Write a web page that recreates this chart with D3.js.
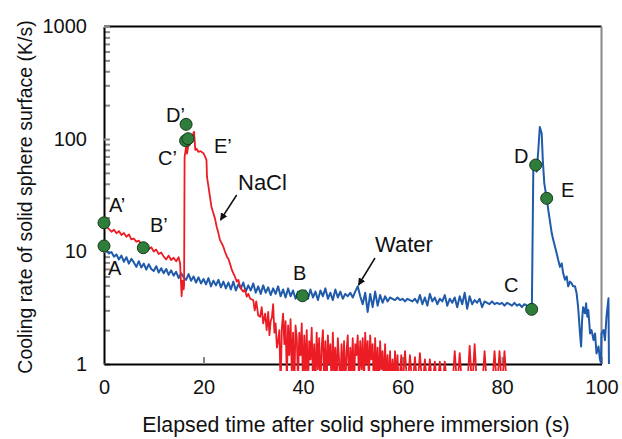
<!DOCTYPE html>
<html><head><meta charset="utf-8">
<script src="https://cdn.jsdelivr.net/npm/d3@7"></script>
<style>body{margin:0;background:#fff}svg{display:block}text{font-family:Arial,"Liberation Sans",sans-serif;fill:#111}</style>
</head><body>
<svg id="c" width="622" height="439"></svg>
<script>
// ---------- DATA ----------
const xTicks = [0, 20, 40, 60, 80, 100];
const yMajor = [1, 10, 100, 1000];
const yMinor = [2,3,4,5,6,7,8,9,20,30,40,50,60,70,80,90,200,300,400,500,600,700,800,900];

// Water: [time (s), cooling rate (K/s)]
const waterBase = [[0,11.0],[0.5,10.2],[1,9.6],[1.5,9.9],[2,9.0],[2.5,9.4],[3,8.5],[3.5,9.2],[4,8.1],[4.5,8.9],[5,7.8],[5.5,8.6],[6,8.0],[6.5,7.3],[7,8.2],[7.5,7.2],[8,7.8],[8.5,6.9],[9,7.7],[9.5,7.0],[10,6.7],[10.5,7.4],[11,6.5],[11.5,7.1],[12,6.4],[12.5,7.0],[13,6.2],[13.5,6.8],[14,6.1],[14.5,6.6],[15,5.8],[15.5,6.4],[16,5.9],[16.5,5.6],[17,6.3],[17.5,5.5],[18,6.0],[18.5,5.3],[19,5.9],[19.5,5.2],[20,5.7],[20.5,5.1],[21,5.8],[21.5,4.9],[22,5.5],[22.5,5.0],[23,5.6],[23.5,4.8],[24,5.4],[24.5,4.7],[25,5.3],[25.5,4.6],[26,5.4],[26.5,4.5],[27,5.1],[27.5,4.7],[28,5.3],[28.5,4.4],[29,5.0],[29.5,4.5],[30,5.2],[30.5,4.3],[31,4.9],[31.5,4.2],[32,5.0],[32.5,4.3],[33,4.8],[33.5,4.1],[34,4.7],[34.5,4.2],[35,4.9],[35.5,4.0],[36,4.6],[36.5,3.9],[37,4.7],[37.5,4.0],[38,4.5],[38.5,3.8],[39,4.4],[39.5,3.9],[40,4.1],[40.5,4.5],[41,3.8],[41.5,4.6],[42,3.9],[42.5,4.4],[43,3.7],[43.5,4.5],[44,4.0],[44.5,4.7],[45,3.8],[45.5,4.3],[46,3.7],[46.5,4.6],[47,3.9],[47.5,4.4],[48,3.8],[48.5,4.2],[49,4.0],[49.5,4.3],[50,3.9],[50.5,4.4],[51,4.9],[51.5,4.0],[52,3.4],[52.5,4.3],[53,2.9],[53.5,4.2],[54,3.2],[54.5,4.4],[55,3.3],[55.5,4.1],[56,3.5],[56.5,4.0],[57,3.6],[57.5,3.9],[58,3.8],[58.5,3.7],[59,3.9],[59.5,3.7],[60,3.8],[60.5,3.6],[61,3.8],[61.5,3.7],[62,3.6],[62.5,3.8],[63,3.5],[63.5,4.1],[64,3.4],[64.5,3.9],[65,3.3],[65.5,4.2],[66,3.6],[66.5,3.9],[67,3.4],[67.5,3.8],[68,3.6],[68.5,4.1],[69,3.3],[69.5,3.8],[70,3.5],[70.5,3.9],[71,3.2],[71.5,4.0],[72,3.4],[72.5,4.3],[73,3.1],[73.5,4.0],[74,3.4],[74.5,3.7],[75,3.5],[75.5,3.8],[76,3.2],[76.5,3.6],[77,3.5],[77.5,3.4],[78,3.6],[78.5,3.4],[79,3.5],[79.5,3.4],[80,3.5],[80.5,3.3],[81,3.5],[81.5,3.4],[82,3.3],[82.5,3.5],[83,3.3],[83.5,3.4],[84,3.2],[84.5,3.4],[85,3.3],[85.5,3.1],[86,3.05]];
const waterPeak = [[86.3,56.7],[86.6,62.8],[86.97,51.2],[87.3,79.8],[87.6,128],[87.98,112],[88.2,65],[88.5,40.4],[88.98,29.7],[89.3,23.4],[89.6,19.1],[90.0,14.5],[90.3,12.7],[90.65,11.0],[91.0,9.6],[91.3,8.4],[91.66,7.3],[92.0,7.85],[92.3,6.4],[92.66,5.6],[93.0,6.0],[93.3,4.9],[93.67,5.4],[94.0,5.2],[94.3,4.9],[94.67,4.9],[95.0,4.25],[95.3,3.2],[95.68,1.87],[95.9,1.43],[96.1,2.46],[96.3,3.2],[96.7,2.82],[96.9,3.46],[97.15,2.63],[97.35,3.02],[97.7,1.87],[98.0,2.0],[98.4,1.63],[98.7,1.87],[99.0,1.24],[99.4,1.43],[99.7,1.09],[99.9,1.02],[100.0,1.87],[100.4,2.0],[100.7,1.63],[101.0,2.63],[101.4,3.84],[101.5,1.0]];

// NaCl
const naclBase = [[0,18.0],[0.5,16.5],[1,15.8],[1.5,15.0],[2,15.6],[2.5,14.5],[3,15.2],[3.5,14.0],[4,14.6],[4.5,13.5],[5,14.2],[5.5,12.8],[6,13.0],[6.5,12.2],[7,12.5],[7.5,11.5],[8,11.0],[8.5,11.4],[9,10.5],[9.5,10.9],[10,10.0],[10.5,10.4],[11,9.5],[11.5,9.8],[12,9.0],[12.5,8.5],[13,9.2],[13.5,8.4],[14,8.8],[14.5,8.2],[15,8.9],[15.3,7.8],[15.6,4.0],[15.8,5.5],[16.0,4.6],[16.1,5.0]];
const naclPeak = [[16.2,69],[16.5,85],[16.7,74],[17.0,92],[17.2,88],[17.5,98],[17.95,112],[18.1,116],[18.35,80],[18.6,82],[18.96,77],[19.4,78],[20.0,74.6],[20.3,70],[20.6,65],[20.7,46],[21.0,37.7],[21.3,30.6],[21.6,25],[22.0,21.8],[22.3,19.7],[22.65,16.6],[23.0,14.5],[23.3,12.7],[23.6,12.0],[24.0,11.0],[24.3,10.0],[24.7,9.0],[25.0,8.6],[25.3,7.85],[25.7,6.85],[26.0,6.4],[26.3,6.0],[26.7,5.4],[27.0,5.6],[27.3,5.0],[27.7,4.55],[28.0,4.4],[28.3,4.6],[28.7,3.97],[29.0,4.2],[29.4,3.8],[30.0,3.7],[30.3,3.0],[30.6,3.6],[31.0,2.7],[31.4,2.63],[31.7,3.2],[32.0,2.3],[32.4,2.8],[32.7,2.0]];
const naclTail = [[33.0,2.9],[33.25,1.8],[33.5,2.4],[33.75,2.6],[34.0,3.4],[34.25,1.9],[34.5,2.3],[34.75,1.4],[35.0,1.6],[35.25,2.0],[35.5,0.6],[35.75,2.1],[36.0,2.8],[36.25,1.5],[36.5,2.4],[36.75,0.7],[37.0,2.2],[37.25,1.2],[37.5,2.5],[37.75,0.8],[38.0,1.9],[38.25,0.6],[38.5,2.2],[38.75,1.7],[39.0,0.7],[39.25,1.9],[39.5,1.2],[39.75,2.3],[40.0,0.6],[40.25,1.8],[40.5,0.8],[40.75,2.0],[41.0,0.6],[41.25,1.6],[41.5,1.1],[41.75,2.1],[42.0,0.7],[42.25,1.5],[42.5,0.6],[42.75,1.9],[43.0,0.9],[43.25,1.7],[43.5,0.6],[43.75,1.4],[44.0,2.0],[44.25,0.7],[44.5,1.6],[44.75,0.6],[45.0,1.8],[45.25,1.0],[45.5,1.5],[45.75,0.6],[46.0,1.9],[46.25,0.8],[46.5,1.4],[46.75,0.6],[47.0,1.7],[47.25,1.1],[47.5,0.6],[47.75,1.5],[48.0,0.7],[48.25,1.6],[48.5,0.6],[48.75,1.3],[49.0,1.8],[49.25,0.6],[49.5,1.4],[49.75,0.8],[50.0,1.7],[50.25,0.6],[50.5,1.5],[50.75,1.2],[51.0,1.8],[51.25,0.7],[51.5,1.6],[51.75,0.9],[52.0,1.7],[52.25,0.6],[52.5,1.9],[52.75,1.0],[53.0,1.6],[53.25,0.7],[53.5,1.8],[53.75,1.1],[54.0,1.5],[54.25,0.6],[54.5,1.7],[54.75,0.8],[55.0,1.4],[55.25,0.6],[55.5,1.6],[55.75,0.9],[56.0,1.3],[56.25,0.6],[56.5,1.5],[56.75,0.7],[57.0,1.2],[57.25,0.6],[57.5,1.3],[57.75,0.6],[58.0,1.1],[58.25,0.6],[58.5,1.3],[58.75,0.7],[59.0,1.2],[59.25,0.6],[59.5,0.8],[59.75,1.2],[60.0,0.6],[60.5,1.3],[61.0,0.6],[61.5,1.2],[62.0,0.6],[62.5,1.15],[63.0,0.6],[63.5,1.25],[64.0,0.6],[64.5,1.1],[65.0,0.6],[65.5,1.1],[66.0,0.6],[66.5,1.05],[67.0,0.6],[67.5,1.05],[68.0,0.6],[68.5,1.05],[69.0,0.6],[70.0,0.6],[70.5,1.3],[71.0,0.6],[71.5,1.25],[72.0,0.6],[73.0,0.6],[73.5,1.45],[74.0,0.6],[74.5,1.5],[75.0,0.6],[76.0,0.6],[76.5,1.3],[77.0,0.6],[78.0,0.6],[78.5,1.3],[79.0,0.6],[79.5,1.3],[80.0,0.6],[80.5,1.3],[81.0,0.6]];

// Marked points: [label, time, rate]
const markers = [["A",0,11.2],["A’",0,18],["B’",7.9,10.8],["D’",16.5,135],["C’",16.4,96.6],["E’",16.9,100.6],["B",39.9,4.04],["C",85.96,3.06],["D",86.77,58.7],["E",88.98,29.7]];

// ---------- DRAW ----------
const svg = d3.select("#c");
const x = d3.scaleLinear().domain([0,100]).range([104,601.5]);
const y = d3.scaleLog().domain([1,1000]).range([364,26.5]);

svg.append("defs").append("clipPath").attr("id","clip")
  .append("rect").attr("x",100).attr("y",20).attr("width",512).attr("height",351);
const mk = svg.select("defs").append("marker").attr("id","arr")
  .attr("viewBox","0 0 10 10").attr("refX",9).attr("refY",5)
  .attr("markerWidth",5).attr("markerHeight",5).attr("orient","auto");
mk.append("path").attr("d","M0,0 L10,5 L0,10 z").attr("fill","#111");

// frame: top black, right gray
svg.append("line").attr("x1",x(0)).attr("x2",x(100)).attr("y1",y(1000)).attr("y2",y(1000)).attr("stroke","#000").attr("stroke-width",2);
svg.append("line").attr("x1",x(100)).attr("x2",x(100)).attr("y1",y(1000)).attr("y2",y(1)).attr("stroke","#888").attr("stroke-width",2);

// minor y ticks
const yMinorAxis = d3.axisLeft(y).tickValues(yMinor).tickSizeInner(-6).tickSizeOuter(0).tickFormat("");
const gm = svg.append("g").attr("transform",`translate(${x(0)},0)`).call(yMinorAxis);
gm.select(".domain").remove();
gm.selectAll(".tick line").attr("stroke","#888").attr("stroke-width",2);

// major y axis
const yAxis = d3.axisLeft(y).tickValues(yMajor).tickSizeInner(-6).tickSizeOuter(0).tickPadding(17).tickFormat(d3.format("d"));
const gy = svg.append("g").attr("transform",`translate(${x(0)},0)`).call(yAxis);
gy.select(".domain").attr("stroke","#000").attr("stroke-width",2);
gy.selectAll(".tick line").attr("stroke","#888").attr("stroke-width",2);
gy.selectAll(".tick text").attr("font-size",20).attr("font-family","Arial, Liberation Sans, sans-serif").attr("fill","#111");

// x axis
const xAxis = d3.axisBottom(x).tickValues(xTicks).tickSizeInner(-7).tickSizeOuter(0).tickPadding(16).tickFormat(d3.format("d"));
const gx = svg.append("g").attr("transform",`translate(0,${y(1)})`).call(xAxis);
gx.select(".domain").attr("stroke","#000").attr("stroke-width",2);
gx.selectAll(".tick line").attr("stroke","#888").attr("stroke-width",2);
gx.selectAll(".tick text").attr("font-size",20).attr("font-family","Arial, Liberation Sans, sans-serif").attr("fill","#111");
gx.selectAll(".tick").filter(d=>d===0).select("line").remove();

// series
const line = d3.line().x(d=>x(d[0])).y(d=>y(d[1]));
const plot = svg.append("g").attr("clip-path","url(#clip)");
plot.append("path").datum(waterBase.concat(waterPeak)).attr("d",line)
  .attr("fill","none").attr("stroke","#1F5BAA").attr("stroke-width",2).attr("stroke-linejoin","round");
plot.append("path").datum(naclBase.concat(naclPeak, naclTail)).attr("d",line)
  .attr("fill","none").attr("stroke","#EC1C24").attr("stroke-width",1.8).attr("stroke-linejoin","round");

// markers
svg.append("g").selectAll("circle").data(markers).join("circle")
  .attr("cx",d=>x(d[1])).attr("cy",d=>y(d[2])).attr("r",6)
  .attr("fill","#2E7D3A").attr("stroke","#173A1A").attr("stroke-width",1);

// point labels
const labels = [["A’",109,212,20],["A",108,275,20],["B’",150,232,20],["D’",166,122,20],["C’",158,165,20],["E’",214,153,20],["NaCl",238,190,22],["B",293,280,20],["Water",375,252,22],["C",504,292,20],["D",514,163,20],["E",561,197,20]];
svg.append("g").selectAll("text").data(labels).join("text")
  .attr("x",d=>d[1]).attr("y",d=>d[2]).attr("font-size",d=>d[3]).text(d=>d[0]);

// arrows
svg.append("line").attr("x1",236.7).attr("y1",195).attr("x2",220.5).attr("y2",220)
  .attr("stroke","#111").attr("stroke-width",1.5).attr("marker-end","url(#arr)");
svg.append("line").attr("x1",375).attr("y1",258).attr("x2",358.5).attr("y2",285)
  .attr("stroke","#111").attr("stroke-width",1.5).attr("marker-end","url(#arr)");

// axis titles
svg.append("text").attr("x",356).attr("y",432).attr("text-anchor","middle").attr("font-size",21.3)
  .text("Elapsed time after solid sphere immersion (s)");
svg.append("text").attr("transform","translate(25,197) rotate(-90)").attr("text-anchor","middle").attr("dominant-baseline","central").attr("font-size",19.5)
  .text("Cooling rate of solid sphere surface (K/s)");
</script>
</body></html>
